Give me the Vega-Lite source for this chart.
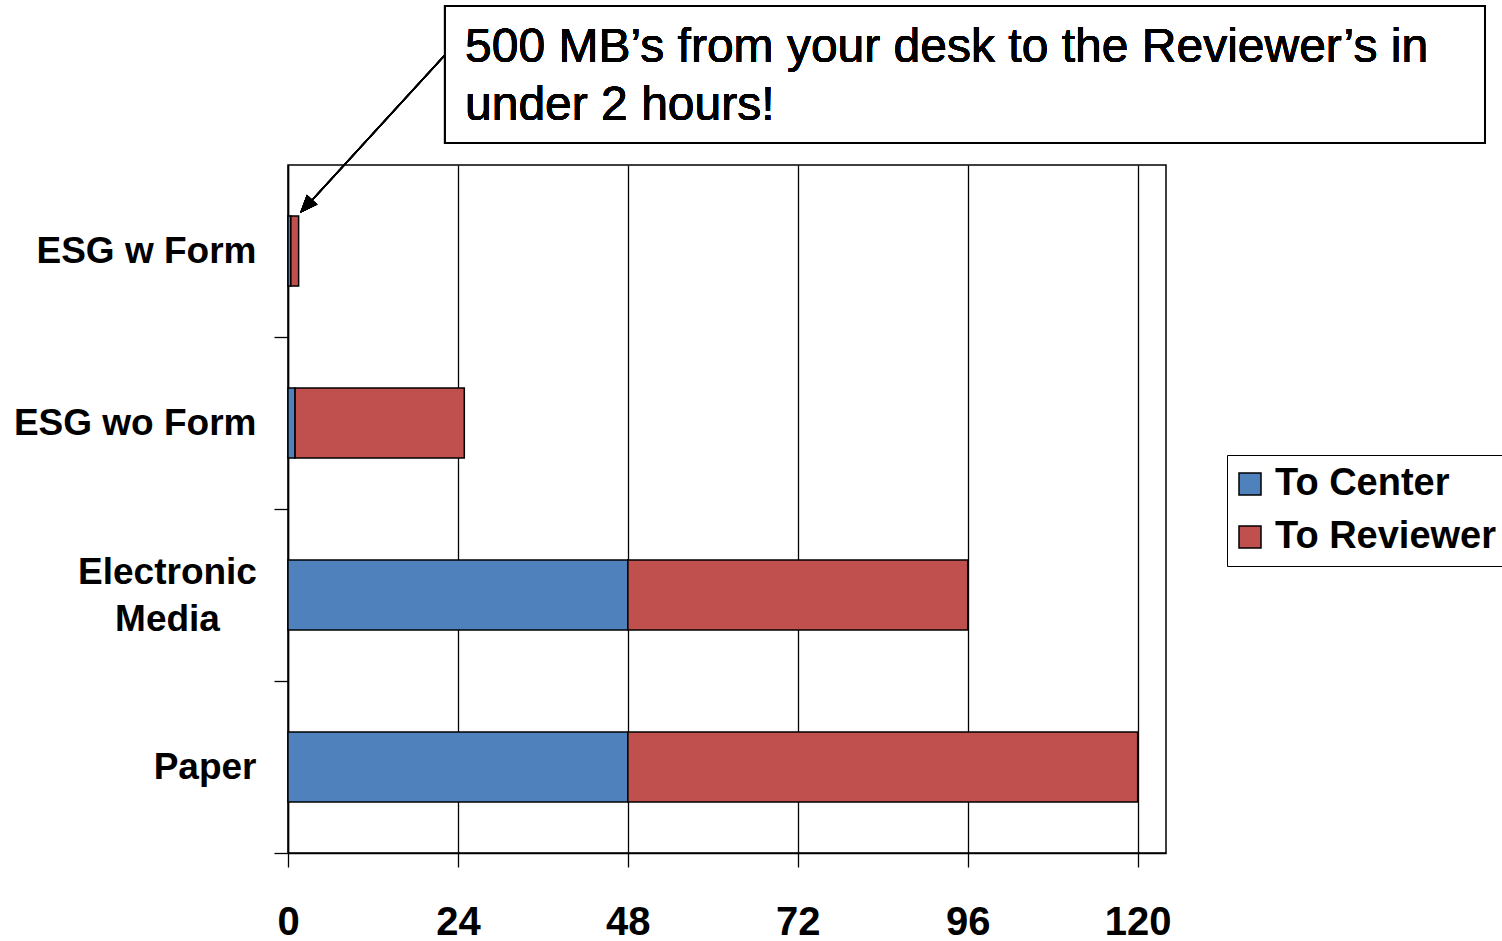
{
  "$schema": "https://vega.github.io/schema/vega-lite/v6.json",
  "autosize": {"type": "none"},
  "padding": {"left": 288, "top": 165, "right": 336, "bottom": 88},
  "width": 878,
  "height": 688,
  "background": "white",
  "config": {
    "font": "Liberation Sans",
    "view": {"stroke": "black", "strokeWidth": 1.5}
  },
  "data": {
    "values": [
      {"category": "ESG w Form", "segment": "To Center", "hours": 0.4},
      {"category": "ESG w Form", "segment": "To Reviewer", "hours": 1.1},
      {"category": "ESG wo Form", "segment": "To Center", "hours": 1},
      {"category": "ESG wo Form", "segment": "To Reviewer", "hours": 23.9},
      {"category": "Electronic Media", "segment": "To Center", "hours": 48},
      {"category": "Electronic Media", "segment": "To Reviewer", "hours": 48},
      {"category": "Paper", "segment": "To Center", "hours": 48},
      {"category": "Paper", "segment": "To Reviewer", "hours": 72}
    ]
  },
  "layer": [
    {
      "mark": {"type": "bar", "stroke": "black", "strokeWidth": 1.5, "height": {"band": 0.407}},
      "encoding": {
        "y": {
          "field": "category",
          "type": "nominal",
          "sort": ["ESG w Form", "ESG wo Form", "Electronic Media", "Paper"],
          "scale": {"paddingInner": 0, "paddingOuter": 0},
          "axis": {
            "title": null,
            "grid": false,
            "domainColor": "black",
            "domainWidth": 1.5,
            "tickBand": "extent",
            "tickSize": 14,
            "tickColor": "black",
            "tickWidth": 1.3,
            "tickOpacity": {"condition": {"test": "indexof(['ESG w Form','ESG wo Form','Electronic Media','Paper'], datum.value) < 0", "value": 0}, "value": 1},
            "labelFontSize": 37,
            "labelFontWeight": "bold",
            "labelColor": "black",
            "labelLimit": 400,
            "labelLineHeight": 47,
            "labelExpr": "datum.label === 'Electronic Media' ? ['Electronic', 'Media'] : datum.label",
            "labelAlign": {"condition": {"test": "datum.value === 'Electronic Media'", "value": "center"}, "value": "right"},
            "labelPadding": {"condition": {"test": "datum.value === 'Electronic Media'", "value": 107}, "value": 18},
            "labelOffset": {"condition": {"test": "datum.value === 'Electronic Media'", "value": -23}, "value": 0}
          }
        },
        "x": {
          "field": "hours",
          "type": "quantitative",
          "stack": "zero",
          "scale": {"domain": [0, 124], "nice": false, "zero": true},
          "axis": {
            "title": null,
            "values": [0, 24, 48, 72, 96, 120],
            "grid": true,
            "gridColor": "black",
            "gridWidth": 1.3,
            "gridOpacity": 1,
            "domainColor": "black",
            "domainWidth": 1.5,
            "tickSize": 14,
            "tickColor": "black",
            "tickWidth": 1.3,
            "labelFontSize": 40,
            "labelFontWeight": "bold",
            "labelColor": "black",
            "labelPadding": 35,
            "labelFlush": false
          }
        },
        "color": {
          "field": "segment",
          "type": "nominal",
          "scale": {"domain": ["To Center", "To Reviewer"], "range": ["#4F81BD", "#C0504D"]},
          "legend": {
            "title": null,
            "orient": "none",
            "legendX": 939,
            "legendY": 290,
            "strokeColor": "black",
            "fillColor": "white",
            "padding": 10,
            "symbolType": "square",
            "symbolSize": 484,
            "symbolStrokeColor": "black",
            "symbolStrokeWidth": 1.5,
            "symbolOpacity": 1,
            "symbolOffset": -6,
            "labelFontSize": 38,
            "labelFontWeight": "bold",
            "labelColor": "black",
            "labelLimit": 400,
            "labelOffset": 6,
            "rowPadding": 15
          }
        }
      }
    },
    {
      "layer": [
        {
          "mark": {"type": "rule", "stroke": "black", "strokeWidth": 1.5},
          "encoding": {
            "x": {"datum": 22.17, "type": "quantitative", "scale": {"domain": [0, 124], "nice": false, "zero": true}, "axis": null},
            "x2": {"datum": 2.12},
            "y": {"datum": 4.6395, "type": "quantitative", "scale": {"domain": [0, 4], "nice": false, "zero": false}, "axis": null},
            "y2": {"datum": 3.738}
          }
        },
        {
          "mark": {"type": "point", "shape": "M0,0L-0.8,2L0.8,2Z", "size": 324, "filled": true, "fill": "black", "stroke": null, "opacity": 1, "angle": 222.5},
          "encoding": {
            "x": {"datum": 1.695, "type": "quantitative", "scale": {"domain": [0, 124], "nice": false, "zero": true}, "axis": null},
            "y": {"datum": 3.721, "type": "quantitative", "scale": {"domain": [0, 4], "nice": false, "zero": false}, "axis": null}
          }
        },
        {
          "mark": {"type": "rect", "fill": "white", "stroke": "black", "strokeWidth": 2},
          "encoding": {
            "x": {"datum": 22.17, "type": "quantitative", "scale": {"domain": [0, 124], "nice": false, "zero": true}, "axis": null},
            "x2": {"datum": 169.05},
            "y": {"datum": 4.924, "type": "quantitative", "scale": {"domain": [0, 4], "nice": false, "zero": false}, "axis": null},
            "y2": {"datum": 4.128}
          }
        },
        {
          "mark": {
            "type": "text",
            "text": ["500 MB’s from your desk to the Reviewer’s in", "under 2 hours!"],
            "align": "left",
            "baseline": "middle",
            "fontSize": 48,
            "lineHeight": 58,
            "color": "black"
          },
          "encoding": {
            "x": {"datum": 25.0, "type": "quantitative", "scale": {"domain": [0, 124], "nice": false, "zero": true}, "axis": null},
            "y": {"datum": 4.68, "type": "quantitative", "scale": {"domain": [0, 4], "nice": false, "zero": false}, "axis": null}
          }
        }
      ]
    }
  ],
  "resolve": {"scale": {"y": "independent"}, "axis": {"y": "independent", "x": "independent"}}
}
